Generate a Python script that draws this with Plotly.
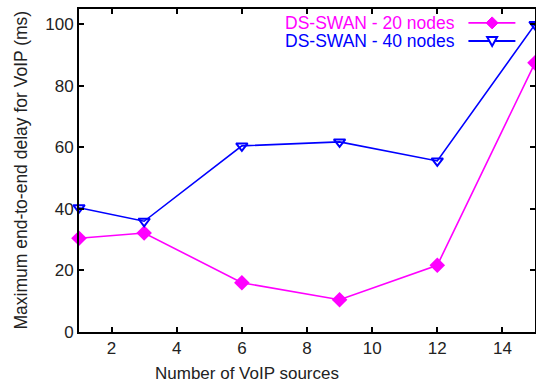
import plotly.graph_objects as go

x_sources = [1, 3, 6, 9, 12, 15]
delay_20 = [30.5, 32.2, 16.0, 10.5, 21.7, 87.5]
delay_40 = [40.4, 36.0, 60.5, 61.8, 55.6, 100.0]
series_names = ["DS-SWAN - 20 nodes", "DS-SWAN - 40 nodes"]
x_ticks = [2, 4, 6, 8, 10, 12, 14]
y_ticks = [0, 20, 40, 60, 80, 100]
x_title = "Number of VoIP sources"
y_title = "Maximum end-to-end delay for VoIP (ms)"

MAG = "#ff00ff"
BLU = "#0000ff"
FONT = "Liberation Sans, Arial, sans-serif"
TXT = "#222"

fig = go.Figure()
fig.add_trace(go.Scatter(x=x_sources, y=delay_20, mode="lines+markers", name=series_names[0],
                         line=dict(color=MAG, width=1.6),
                         marker=dict(symbol="diamond", size=12, color=MAG),
                         cliponaxis=False, showlegend=False))
fig.add_trace(go.Scatter(x=x_sources, y=delay_40, mode="lines+markers", name=series_names[1],
                         line=dict(color=BLU, width=1.6),
                         marker=dict(symbol="triangle-down-open", size=10, color=BLU,
                                     line=dict(width=2, color=BLU)),
                         cliponaxis=False, showlegend=False))

# gnuplot-style key: text then line sample
key_rows = [(0.957, MAG, "diamond"), (0.901, BLU, "tri")]
for (ky, col, sym), name in zip(key_rows, series_names):
    fig.add_annotation(x=0.828, y=ky, xref="paper", yref="paper", text=name, showarrow=False,
                       xanchor="right", yanchor="middle", font=dict(family=FONT, size=17.5, color=col))
    fig.add_shape(type="line", xref="paper", yref="paper", x0=0.854, x1=0.957, y0=ky, y1=ky,
                  line=dict(color=col, width=2 if col == BLU else 1.6))
    if sym == "diamond":
        path = "M0,-6 L6,0 L0,6 L-6,0 Z"
        fig.add_shape(type="path", xref="paper", yref="paper", xsizemode="pixel", ysizemode="pixel",
                      xanchor=0.906, yanchor=ky, path=path, fillcolor=col, line=dict(color=col, width=1))
    else:
        path = "M-5,4 L5,4 L0,-5 Z"
        fig.add_shape(type="path", xref="paper", yref="paper", xsizemode="pixel", ysizemode="pixel",
                      xanchor=0.906, yanchor=ky, path=path, fillcolor="white", line=dict(color=col, width=2))

# axis titles as annotations (positioned like the original)
fig.add_annotation(x=0.368, y=0, xref="paper", yref="paper", yshift=-41, text=x_title,
                   showarrow=False, xanchor="center", yanchor="middle",
                   font=dict(family=FONT, size=17, color=TXT))
fig.add_annotation(x=0, y=0.5, xref="paper", yref="paper", xshift=-59, text=y_title,
                   showarrow=False, xanchor="center", yanchor="middle", textangle=-90,
                   font=dict(family=FONT, size=17.5, color=TXT))

axis_common = dict(showline=True, linecolor="black", linewidth=2, mirror="ticks",
                   ticks="inside", ticklen=5, tickwidth=2, tickcolor="black",
                   showgrid=False, zeroline=False, automargin=False,
                   tickfont=dict(family=FONT, size=17, color=TXT))

fig.update_xaxes(range=[1, 15], tickvals=x_ticks, **axis_common)
fig.update_yaxes(range=[0, 105], tickvals=y_ticks, **axis_common)

fig.update_layout(width=536, height=382, margin=dict(l=79, r=1, t=9, b=50),
                  plot_bgcolor="white", paper_bgcolor="white",
                  font=dict(family=FONT, size=17))

fig.write_html("out.html", config={"displayModeBar": False},
               post_script="document.body.style.margin='0';document.body.style.padding='0';")
